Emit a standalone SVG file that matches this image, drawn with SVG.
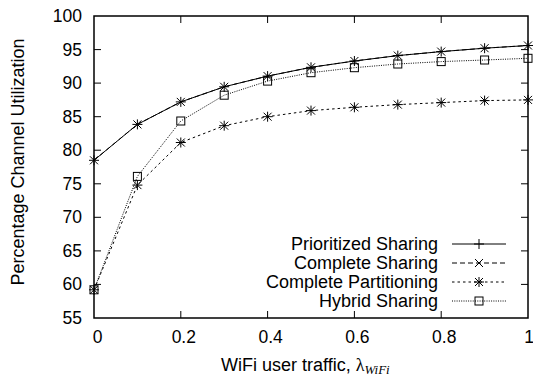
<svg xmlns="http://www.w3.org/2000/svg" xmlns:xlink="http://www.w3.org/1999/xlink" width="533" height="377" viewBox="0 0 533 377">
  <style>
    text { font-family: "Liberation Sans", Arial, sans-serif; fill: #000; }
    .tick { font-size: 17.5px; }
    .ylab { text-anchor: end; }
    .xlab { text-anchor: middle; }
    .title { font-size: 18px; }
    .legend { font-size: 18px; text-anchor: end; }
    .frame { fill: none; stroke: #000; stroke-width: 1.5; }
    .tk { stroke: #000; stroke-width: 1; fill: none; }
    .ln { fill: none; stroke: #000; stroke-width: 1; }
    .ps { }
    .cs { stroke-dasharray: 5 3; }
    .cp { stroke-dasharray: 2.5 3; }
    .hs { stroke-dasharray: 1 1.3; }
    .mk { fill: none; stroke: #000; stroke-width: 1; }
  </style>
  <defs>
    <g id="mPlus" class="mk"><path d="M-5,0H5M0,-5V5"/></g>
    <g id="mCross" class="mk"><path d="M-4,-4L4,4M-4,4L4,-4"/></g>
    <g id="mStar" class="mk"><path d="M-5,0H5M0,-5V5M-4,-4L4,4M-4,4L4,-4"/></g>
    <g id="mBox" class="mk"><rect x="-4" y="-4" width="8" height="8"/></g>
  </defs>

  <!-- tick marks (inside, mirrored on all four sides) -->
  <g id="ticks" class="tk">
    <path d="M94,49.6h7M94,83.1h7M94,116.7h7M94,150.2h7M94,183.8h7M94,217.3h7M94,250.9h7M94,284.4h7"/>
    <path d="M528,49.6h-7M528,83.1h-7M528,116.7h-7M528,150.2h-7M528,183.8h-7M528,217.3h-7M528,250.9h-7M528,284.4h-7"/>
    <path d="M180.8,318v-7M267.6,318v-7M354.4,318v-7M441.2,318v-7"/>
    <path d="M180.8,16v7M267.6,16v7M354.4,16v7M441.2,16v7"/>
  </g>

  <!-- y axis labels -->
  <g id="y-axis" class="tick ylab">
    <text x="82" y="22">100</text>
    <text x="82" y="55.6">95</text>
    <text x="82" y="89.1">90</text>
    <text x="82" y="122.7">85</text>
    <text x="82" y="156.2">80</text>
    <text x="82" y="189.8">75</text>
    <text x="82" y="223.3">70</text>
    <text x="82" y="256.9">65</text>
    <text x="82" y="290.4">60</text>
    <text x="82" y="324">55</text>
  </g>

  <!-- x axis labels -->
  <g id="x-axis" class="tick xlab">
    <text x="97.5" y="343">0</text>
    <text x="183.8" y="343">0.2</text>
    <text x="270.6" y="343">0.4</text>
    <text x="357.4" y="343">0.6</text>
    <text x="444.2" y="343">0.8</text>
    <text x="529" y="343">1</text>
  </g>

  <!-- axis titles -->
  <text id="y-title" class="title" transform="translate(24,162) rotate(-90)" text-anchor="middle">Percentage Channel Utilization</text>
  <text id="x-title" class="title" x="221" y="371">WiFi user traffic, <tspan font-family="'Liberation Serif', 'Times New Roman', serif">λ</tspan><tspan font-family="'Liberation Serif', 'Times New Roman', serif" font-style="italic" font-size="13" dy="2.5">WiFi</tspan></text>

  <!-- data series -->
  <g id="connectors">
    <polyline id="line-cs" class="ln cs" points="94,160.3 137.4,124.4 180.8,101.9 224.2,86.8 267.6,76.1 311,67.3 354.4,61 397.8,55.6 441.2,51.6 484.6,48.2 528,45.5"/>
    <polyline id="line-ps" class="ln ps" points="94,160.3 137.4,124.4 180.8,101.9 224.2,86.8 267.6,76.1 311,67.3 354.4,61 397.8,55.6 441.2,51.6 484.6,48.2 528,45.5"/>
    <polyline id="line-cp" class="ln cp" points="94,289.8 137.4,185.1 180.8,142.5 224.2,125.7 267.6,116.7 311,110.6 354.4,107.3 397.8,104.6 441.2,102.6 484.6,100.6 528,99.9"/>
    <polyline id="line-hs" class="ln hs" points="94,289.8 137.4,176.4 180.8,121 224.2,95.2 267.6,81.1 311,72.7 354.4,67.7 397.8,64 441.2,61.6 484.6,60 528,58.3"/>
  </g>

  <g id="points-ps-cs">
    <use xlink:href="#mStar" x="94" y="160.3"/>
    <use xlink:href="#mStar" x="137.4" y="124.4"/>
    <use xlink:href="#mStar" x="180.8" y="101.9"/>
    <use xlink:href="#mStar" x="224.2" y="86.8"/>
    <use xlink:href="#mStar" x="267.6" y="76.1"/>
    <use xlink:href="#mStar" x="311" y="67.3"/>
    <use xlink:href="#mStar" x="354.4" y="61"/>
    <use xlink:href="#mStar" x="397.8" y="55.6"/>
    <use xlink:href="#mStar" x="441.2" y="51.6"/>
    <use xlink:href="#mStar" x="484.6" y="48.2"/>
    <use xlink:href="#mStar" x="528" y="45.5"/>
  </g>
  <g id="points-cp">
    <use xlink:href="#mStar" x="94" y="289.8"/>
    <use xlink:href="#mStar" x="137.4" y="185.1"/>
    <use xlink:href="#mStar" x="180.8" y="142.5"/>
    <use xlink:href="#mStar" x="224.2" y="125.7"/>
    <use xlink:href="#mStar" x="267.6" y="116.7"/>
    <use xlink:href="#mStar" x="311" y="110.6"/>
    <use xlink:href="#mStar" x="354.4" y="107.3"/>
    <use xlink:href="#mStar" x="397.8" y="104.6"/>
    <use xlink:href="#mStar" x="441.2" y="102.6"/>
    <use xlink:href="#mStar" x="484.6" y="100.6"/>
    <use xlink:href="#mStar" x="528" y="99.9"/>
  </g>
  <g id="points-hs">
    <use xlink:href="#mBox" x="94" y="289.8"/>
    <use xlink:href="#mBox" x="137.4" y="176.4"/>
    <use xlink:href="#mBox" x="180.8" y="121"/>
    <use xlink:href="#mBox" x="224.2" y="95.2"/>
    <use xlink:href="#mBox" x="267.6" y="81.1"/>
    <use xlink:href="#mBox" x="311" y="72.7"/>
    <use xlink:href="#mBox" x="354.4" y="67.7"/>
    <use xlink:href="#mBox" x="397.8" y="64"/>
    <use xlink:href="#mBox" x="441.2" y="61.6"/>
    <use xlink:href="#mBox" x="484.6" y="60"/>
    <use xlink:href="#mBox" x="528" y="58.3"/>
  </g>

  <!-- legend -->
  <g id="legend">
    <g id="legend-ps">
      <text class="legend" x="438" y="250">Prioritized Sharing</text>
      <line class="ln ps" x1="452" y1="244" x2="506" y2="244"/>
      <use xlink:href="#mPlus" x="479" y="244"/>
    </g>
    <g id="legend-cs">
      <text class="legend" x="438" y="269">Complete Sharing</text>
      <line class="ln cs" x1="452" y1="263" x2="506" y2="263"/>
      <use xlink:href="#mCross" x="479" y="263"/>
    </g>
    <g id="legend-cp">
      <text class="legend" x="438" y="288">Complete Partitioning</text>
      <line class="ln cp" x1="452" y1="282" x2="506" y2="282"/>
      <use xlink:href="#mStar" x="479" y="282"/>
    </g>
    <g id="legend-hs">
      <text class="legend" x="438" y="307">Hybrid Sharing</text>
      <line class="ln hs" x1="452" y1="301" x2="506" y2="301"/>
      <use xlink:href="#mBox" x="479" y="301"/>
    </g>
  </g>

  <!-- plot frame -->
  <rect id="frame" class="frame" x="94" y="16" width="434" height="302"/>
</svg>
